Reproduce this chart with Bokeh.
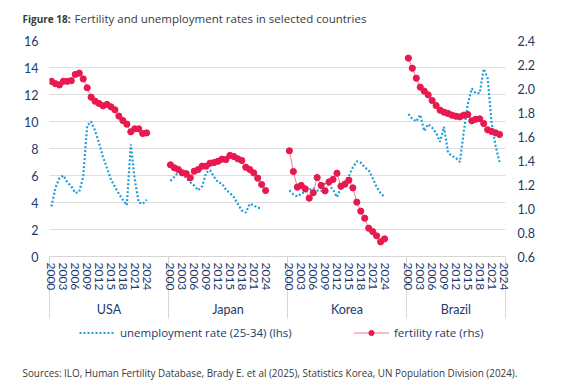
from bokeh.plotting import figure
from bokeh.layouts import column
from bokeh.models import (Range1d, LinearAxis, FixedTicker, Label, Legend,
                          LegendItem, PrintfTickFormatter)
from bokeh.embed import file_html
from bokeh.resources import INLINE

# ---------------- data ----------------
countries = ["USA", "Japan", "Korea", "Brazil"]
tick_years = [2000, 2003, 2006, 2009, 2012, 2015, 2018, 2021, 2024]
first_year = 2000

unemp_usa = [3.7, 5.1, 5.8, 6.0, 5.5, 5.2, 4.7, 4.8, 5.9, 9.7, 10.0, 9.3, 8.4,
             7.35, 6.55, 5.7, 5.15, 4.65, 4.2, 3.8, 8.3, 5.7, 4.0, 3.9, 4.2]
unemp_japan = [5.6, 5.9, 6.25, 6.2, 5.8, 5.5, 5.25, 4.9, 5.2, 6.2, 6.4, 5.9,
               5.5, 5.4, 4.95, 4.7, 4.4, 3.9, 3.4, 3.25, 3.9, 3.8, 3.6, 3.6]
unemp_korea = [4.9, 4.6, 4.45, 4.65, 4.8, 4.95, 5.05, 4.9, 4.85, 5.4, 5.3, 4.95,
               4.4, 5.1, 5.55, 5.95, 6.6, 7.05, 6.95, 6.6, 6.4, 5.8, 5.15, 4.7, 4.4]
unemp_brazil = [10.55, 10.2, 10.0, 10.5, 9.3, 9.8, 9.55, 9.15, 8.5, 9.6, 7.7,
                7.45, 7.3, 7.0, 9.3, 11.3, 12.45, 12.1, 12.1, 13.9, 13.2, 9.9,
                8.2, 7.0]

fert_usa = [2.06, 2.04, 2.03, 2.06, 2.06, 2.065, 2.117, 2.128, 2.08, 2.006,
            1.928, 1.894, 1.875, 1.856, 1.867, 1.847, 1.822, 1.77, 1.733,
            1.703, 1.639, 1.664, 1.664, 1.625, 1.63]
fert_japan = [1.364, 1.339, 1.325, 1.297, 1.29, 1.256, 1.311, 1.325, 1.353,
              1.353, 1.378, 1.383, 1.394, 1.411, 1.408, 1.442, 1.433, 1.414,
              1.40, 1.344, 1.325, 1.297, 1.253, 1.20, 1.15]
fert_korea = [1.481, 1.308, 1.178, 1.192, 1.164, 1.086, 1.131, 1.258, 1.192,
              1.147, 1.222, 1.242, 1.294, 1.186, 1.203, 1.236, 1.172, 1.053,
              0.978, 0.919, 0.836, 0.808, 0.772, 0.722, 0.747]
fert_brazil = [2.253, 2.169, 2.086, 2.011, 1.978, 1.947, 1.90, 1.858, 1.819,
               1.803, 1.792, 1.778, 1.769, 1.764, 1.778, 1.783, 1.731, 1.744,
               1.747, 1.708, 1.656, 1.642, 1.631, 1.617]

left_ticks = [0, 2, 4, 6, 8, 10, 12, 14, 16]
right_ticks = [0.6, 0.8, 1.0, 1.2, 1.4, 1.6, 1.8, 2.0, 2.2, 2.4]

unemp = [unemp_usa, unemp_japan, unemp_korea, unemp_brazil]
fert = [fert_usa, fert_japan, fert_korea, fert_brazil]

title_bold = "Figure 18:"
title_text = "Fertility and unemployment rates in selected countries"
source_text = ("Sources: ILO, Human Fertility Database, Brady E. et al (2025), "
               "Statistics Korea, UN Population Division (2024).")
legend_unemp = "unemployment rate (25-34) (lhs)"
legend_fert = "fertility rate (rhs)"

# ---------------- style ----------------
FONT = "Lato"
TFONT = "Open Sans"
NAVY = "#1b3a6e"
TXT = "#3a3a3a"
BLUE = "#1f9fd8"
RED = "#e8194f"
PINK = "#f07d9b"
GRID = "#dedede"
SEP = "#d6d6d6"
W = 566
HEAD_H = 30
FOOT_TOP = 320
FOOT_H = 386 - FOOT_TOP

BLOCK = 30           # categories per country block (25 years + gap)
LAST_BLOCK = 25
n_cat = BLOCK * (len(countries) - 1) + LAST_BLOCK
x_lo, x_hi = -0.5, n_cat - 0.5


def blank_fig(h):
    f = figure(width=W, height=h, x_range=Range1d(0, W),
               y_range=Range1d(h, 0), x_axis_type=None, y_axis_type=None,
               output_backend="svg", toolbar_location=None, title=None,
               min_border=0)
    f.outline_line_color = None
    f.grid.visible = False
    f.frame_align = False
    return f


# ---------------- header ----------------
head = blank_fig(HEAD_H)
head.add_layout(Label(x=22, y=18, text=title_bold, text_font=TFONT,
                      text_font_style="bold", text_font_size="10px",
                      text_color=TXT, text_baseline="middle"))
head.add_layout(Label(x=74, y=18, text=title_text, text_font=TFONT,
                      text_font_size="11.5px", text_color=TXT,
                      text_baseline="middle"))

# ---------------- main chart ----------------
p = figure(width=W, height=FOOT_TOP - HEAD_H, x_range=Range1d(x_lo, x_hi),
           y_range=Range1d(0, 16), output_backend="svg",
           toolbar_location=None, title=None,
           min_border_left=49, min_border_right=W - 505,
           min_border_top=40 - HEAD_H, min_border_bottom=FOOT_TOP - 256)
p.frame_align = False
p.outline_line_color = None
p.extra_y_ranges = {"rhs": Range1d(0.6, 2.4)}

p.xgrid.visible = False
p.ygrid.ticker = FixedTicker(ticks=left_ticks)
p.ygrid.grid_line_color = GRID
p.ygrid.grid_line_width = 1

yax = p.yaxis[0]
yax.ticker = FixedTicker(ticks=left_ticks)
yax.axis_line_color = None
yax.major_tick_line_color = None
yax.minor_tick_line_color = None
yax.major_tick_out = 0
yax.major_tick_in = 0
yax.major_label_standoff = 11
yax.major_label_text_font = FONT
yax.major_label_text_font_size = "12.5px"
yax.major_label_text_color = NAVY

rax = LinearAxis(y_range_name="rhs", ticker=FixedTicker(ticks=right_ticks),
                 formatter=PrintfTickFormatter(format="%.1f"))
rax.axis_line_color = None
rax.major_tick_line_color = None
rax.minor_tick_line_color = None
rax.major_tick_out = 0
rax.major_tick_in = 0
rax.major_label_standoff = 12
rax.major_label_text_font = FONT
rax.major_label_text_font_size = "12.5px"
rax.major_label_text_color = NAVY
p.add_layout(rax, "right")

starts = [i * BLOCK for i in range(len(countries))]
year_pos, year_lab = [], {}
for s in starts:
    for y in tick_years:
        xp = s + (y - first_year)
        year_pos.append(xp)
        year_lab[xp] = str(y)
separators = [s - 0.5 for s in starts] + [x_hi]
SEP_LEN = 62
xax = p.xaxis[0]
xax.ticker = FixedTicker(ticks=year_pos, minor_ticks=separators)
xax.major_label_overrides = year_lab
xax.major_label_orientation = "vertical"
xax.major_tick_line_color = None
xax.major_tick_out = 0
xax.major_tick_in = 0
xax.minor_tick_in = 0
xax.minor_tick_out = SEP_LEN
xax.minor_tick_line_color = SEP
xax.axis_line_color = SEP
xax.major_label_standoff = 6 - SEP_LEN
xax.major_label_text_font = FONT
xax.major_label_text_font_size = "12px"
xax.major_label_text_color = NAVY

ends = [s + BLOCK for s in starts[:-1]] + [x_hi + 0.5]
centers = [(s + e) / 2 - 0.5 for s, e in zip(starts, ends)]
cax = LinearAxis(ticker=FixedTicker(ticks=centers),
                 major_label_overrides={c: n for c, n in zip(centers, countries)})
cax.axis_line_color = None
cax.major_tick_line_color = None
cax.minor_tick_line_color = None
cax.major_tick_out = 0
cax.major_tick_in = 0
cax.major_label_standoff = 8
cax.major_label_text_font = FONT
cax.major_label_text_font_size = "12.5px"
cax.major_label_text_color = NAVY
p.add_layout(cax, "below")

for s, u, f in zip(starts, unemp, fert):
    xu = [s + k for k in range(len(u))]
    p.line(xu, u, line_color=BLUE, line_width=2.2, line_dash="2 2")
    xf = [s + k for k in range(len(f))]
    p.line(xf, f, y_range_name="rhs", line_color=PINK, line_width=1)
    p.scatter(xf, f, y_range_name="rhs", size=6.2, fill_color=RED,
              line_color=RED)

# ---------------- footer: legend + sources ----------------
# legend keys: hidden copies of the first series (only their styles show)
foot = blank_fig(FOOT_H)
kx = list(range(len(unemp_usa)))
ku = foot.line(kx, unemp_usa, line_color=BLUE, line_width=2.2,
               line_dash="2 2", visible=False)
kl = foot.line(kx, fert_usa, line_color=PINK, line_width=1.2, visible=False)
km = foot.scatter(kx, fert_usa, size=6.2, fill_color=RED, line_color=RED,
                  visible=False)
for lab, rends, lx in [(legend_unemp, [ku], 79), (legend_fert, [kl, km], 353)]:
    lg = Legend(items=[LegendItem(label=lab, renderers=rends)],
                location=(lx, FOOT_H - 22), orientation="horizontal",
                background_fill_alpha=0, border_line_color=None, padding=0,
                margin=0, glyph_width=36, glyph_height=13, label_standoff=5,
                label_height=20, label_text_font=TFONT,
                label_text_font_size="11.5px", label_text_color=NAVY,
                inactive_fill_alpha=0)
    foot.add_layout(lg, "center")
foot.add_layout(Label(x=22, y=52, text=source_text, text_font=TFONT,
                      text_font_size="9.9px", text_color=TXT,
                      text_baseline="middle"))

open("out.html", "w").write(file_html(column(head, p, foot, spacing=0), INLINE))
